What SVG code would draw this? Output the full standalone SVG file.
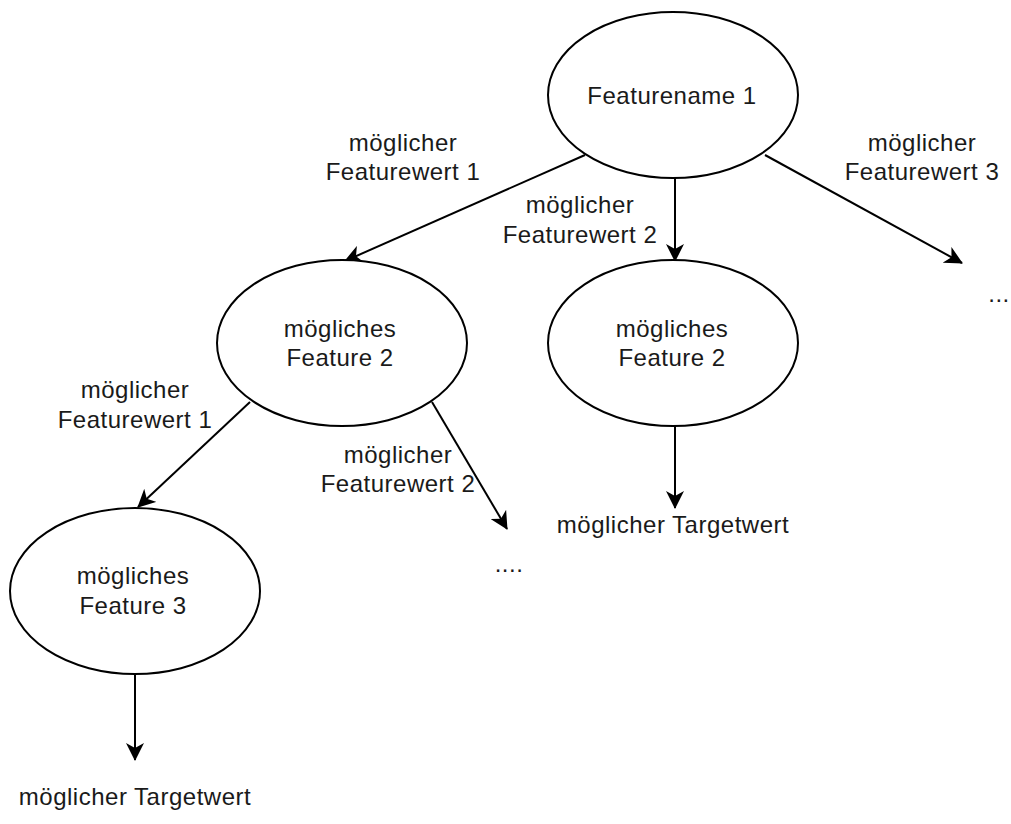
<svg xmlns="http://www.w3.org/2000/svg" width="1011" height="824" viewBox="0 0 1011 824">
<style>
.n ellipse{fill:#fff;stroke:#000;stroke-width:2}
text{font-family:"Liberation Sans",Arial,sans-serif;font-size:24px;letter-spacing:0.5px;fill:#1a1a1a;text-anchor:middle}
#connectors line{stroke:#000;stroke-width:2;marker-end:url(#a)}
</style>
<defs>
<marker id="a" viewBox="0 0 18 18" refX="17" refY="9" markerWidth="18" markerHeight="18" markerUnits="userSpaceOnUse" orient="auto">
<path d="M0,0 L18,9 L0,18 L5,9 Z" fill="#000"/>
</marker>
</defs>
<rect width="1011" height="824" fill="#fff"/>
<g id="connectors">
<line x1="585" y1="155" x2="345" y2="261"/>
<line x1="675" y1="178" x2="675" y2="261"/>
<line x1="765" y1="155" x2="962" y2="263"/>
<line x1="250" y1="402" x2="138" y2="507"/>
<line x1="432" y1="402" x2="507" y2="529"/>
<line x1="675" y1="426" x2="675" y2="508"/>
<line x1="135" y1="674" x2="135" y2="760"/>
</g>
<g id="n1" class="n"><ellipse cx="673" cy="95" rx="125" ry="83"/><text x="672" y="104">Featurename 1</text></g>
<g id="n2" class="n"><ellipse cx="342" cy="343" rx="125" ry="83"/><text x="340" y="337">mögliches</text><text x="340" y="366">Feature 2</text></g>
<g id="n3" class="n"><ellipse cx="673" cy="343" rx="125" ry="83"/><text x="672" y="337">mögliches</text><text x="672" y="366">Feature 2</text></g>
<g id="n4" class="n"><ellipse cx="135" cy="591" rx="125" ry="83"/><text x="133" y="584">mögliches</text><text x="133" y="614">Feature 3</text></g>
<g id="labels">
<text x="403" y="151">möglicher</text><text x="403" y="180">Featurewert 1</text>
<text x="580" y="213">möglicher</text><text x="580" y="243">Featurewert 2</text>
<text x="922" y="151">möglicher</text><text x="922" y="180">Featurewert 3</text>
<text x="999" y="302">...</text>
<text x="135" y="398">möglicher</text><text x="135" y="428">Featurewert 1</text>
<text x="398" y="463">möglicher</text><text x="398" y="492">Featurewert 2</text>
<text x="509" y="572">....</text>
<text x="673" y="533">möglicher Targetwert</text>
<text x="135" y="805">möglicher Targetwert</text>
</g>
</svg>
